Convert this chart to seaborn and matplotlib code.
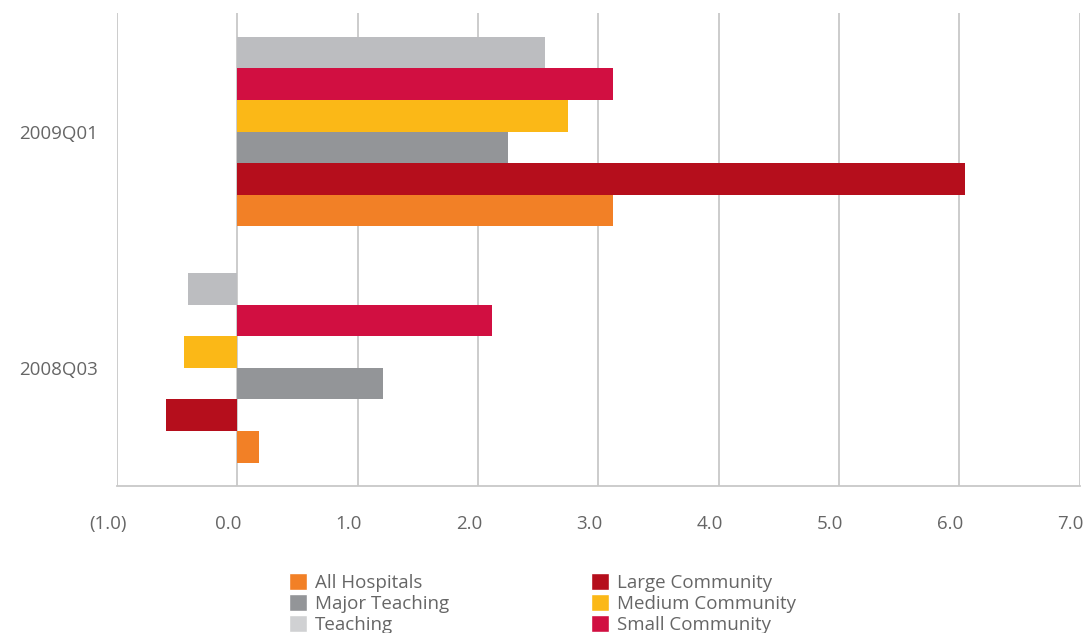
import pandas as pd
import matplotlib
matplotlib.use('Agg')
import matplotlib.pyplot as plt
import matplotlib.transforms as mtransforms
import seaborn as sns
from matplotlib.ticker import FuncFormatter
from matplotlib.patches import Patch

quarters = ['2009Q01', '2008Q03']
groups = ['Teaching', 'Small Community', 'Medium Community',
          'Major Teaching', 'Large Community', 'All Hospitals']
# values per group, in quarter order (2009Q01, 2008Q03)
teaching = [2.56, -0.41]
small_community = [3.12, 2.12]
medium_community = [2.75, -0.44]
major_teaching = [2.25, 1.21]
large_community = [6.05, -0.59]
all_hospitals = [3.12, 0.18]

colors = {'Teaching': '#bcbdc0', 'Small Community': '#d10f41',
          'Medium Community': '#fbb817', 'Major Teaching': '#939598',
          'Large Community': '#b50e1c', 'All Hospitals': '#f28026'}

vals = [teaching, small_community, medium_community, major_teaching,
        large_community, all_hospitals]
rows = []
for g, v in zip(groups, vals):
    for q, x in zip(quarters, v):
        rows.append({'Quarter': q, 'Group': g, 'Value': x})
df = pd.DataFrame(rows)

sns.set_style('white')
plt.rcParams['font.family'] = ['Open Sans', 'DejaVu Sans']

fig = plt.figure(figsize=(10.84, 6.33), dpi=100)
ax = fig.add_axes([0.108, 0.232, 0.888, 0.747])

sns.barplot(data=df, x='Value', y='Quarter', hue='Group', order=quarters,
            hue_order=groups, palette=colors, orient='h', width=0.8,
            saturation=1, linewidth=0, ax=ax, legend=False)

ax.set_xlim(-1, 7)
ax.set_xticks(range(-1, 8))
ax.xaxis.set_major_formatter(FuncFormatter(
    lambda v, p: f'({abs(v):.1f})' if v < 0 else f'{v:.1f}'))
ax.grid(axis='x', color='#c8c8c8', linewidth=1.3)
ax.set_axisbelow(True)
for s in ['top', 'right', 'left']:
    ax.spines[s].set_visible(False)
ax.spines['bottom'].set_color('#c8c8c8')
ax.spines['bottom'].set_linewidth(1.3)
ax.tick_params(axis='x', length=0, pad=21, labelsize=13.5, labelcolor='#666666')
ax.tick_params(axis='y', length=0, pad=14, labelsize=13.5, labelcolor='#666666')
ax.set_xlabel('')
ax.set_ylabel('')

# x labels sit a little left of their gridlines in the original
shift = mtransforms.ScaledTranslation(-9 / 100, 0, fig.dpi_scale_trans)
for lbl in ax.get_xticklabels():
    lbl.set_transform(lbl.get_transform() + shift)

leg_order = ['All Hospitals', 'Major Teaching', 'Teaching',
             'Large Community', 'Medium Community', 'Small Community']
leg_colors = dict(colors)
leg_colors['Teaching'] = '#d0d1d3'
handles = [Patch(facecolor=leg_colors[g], label=g) for g in leg_order]
fig.legend(handles=handles, loc='upper left', bbox_to_anchor=(0.267, 0.094),
           ncol=2, frameon=False, fontsize=13.5, labelcolor='#666666',
           handlelength=0.95, handleheight=1.0, handletextpad=0.4,
           labelspacing=0.1, columnspacing=7.6, borderpad=0, borderaxespad=0)

fig.savefig('out.png', dpi=100)
